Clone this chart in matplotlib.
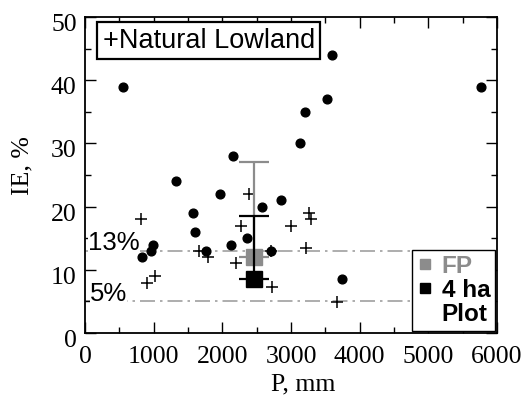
import matplotlib
matplotlib.use("Agg")
import matplotlib.pyplot as plt
from matplotlib.lines import Line2D
from matplotlib.ticker import MultipleLocator
from matplotlib.transforms import ScaledTranslation

# Data
circle_p = [560, 3591, 3528, 5766, 3197, 3124, 2156, 1318, 1961, 2847, 2574,
            1572, 1606, 2360, 2122, 997, 968, 832, 1766, 2711, 3737]
circle_ie = [39, 44, 37, 39, 35, 30, 28, 24, 22, 21, 20,
             19, 16, 15, 14, 14, 13, 12, 13, 13, 8.6]

lowland_p = [818, 2389, 2277, 2993, 3265, 3285, 3216, 1655, 1791, 2204,
             2711, 900, 1022, 2730, 3674]
lowland_ie = [18, 22, 17, 17, 19, 18, 13.5, 13, 12, 11,
              13, 7.9, 9, 7.3, 4.9]

fp_p, fp_ie, fp_err = 2457, 12.0, 15.0
plot_p, plot_ie, plot_err = 2457, 8.5, 10.0

thresholds = [13, 5]
threshold_labels = ["13%", "5%"]
threshold_label_x = [45, 70]

serif = "Liberation Serif"
sans = "Liberation Sans"
grey = "#8c8c8c"
line_grey = "#a0a0a0"

plt.rcParams["font.family"] = serif
plt.rcParams["font.size"] = 18.5

fig, ax = plt.subplots(figsize=(5.27, 3.99), dpi=100)
fig.subplots_adjust(left=0.1613, right=0.9431, bottom=0.1654, top=0.9574)

# threshold lines with labels
for t, lab, lx in zip(thresholds, threshold_labels, threshold_label_x):
    ax.axhline(t, color=line_grey, lw=1.2, linestyle=(0, (9, 3, 1.5, 3)), zorder=1)
    ax.text(lx, t + 0.1, lab, family=sans, fontsize=18.5, va="baseline", ha="left",
            bbox=dict(fc="white", ec="none", pad=0), zorder=2)

ax.plot(circle_p, circle_ie, "o", color="black", ms=6.3, zorder=3)
ax.plot(lowland_p, lowland_ie, "+", color="black", ms=9, mew=1.1, zorder=3)

# FP and 4 ha plot with upper error bars
ax.errorbar([fp_p], [fp_ie], yerr=[[0], [fp_err]], fmt="none", ecolor=grey,
            elinewidth=1.6, capsize=11, capthick=1.6, zorder=4)
ax.plot([fp_p], [fp_ie], "s", color=grey, ms=11.5, zorder=5)
ax.errorbar([plot_p], [plot_ie], yerr=[[0], [plot_err]], fmt="none", ecolor="black",
            elinewidth=1.6, capsize=11, capthick=1.6, zorder=6)
ax.plot([plot_p], [plot_ie], "s", color="black", ms=11.5, zorder=7)

ax.set_xlim(0, 6000)
ax.set_ylim(0, 50)
ax.xaxis.set_major_locator(MultipleLocator(1000))
ax.xaxis.set_minor_locator(MultipleLocator(500))
ax.yaxis.set_major_locator(MultipleLocator(10))
ax.yaxis.set_minor_locator(MultipleLocator(5))
ax.tick_params(which="both", direction="in", top=True, right=True, width=1.0,
               labelsize=18.5)
ax.tick_params(which="major", length=8)
ax.tick_params(which="minor", length=4)
ax.tick_params(axis="x", pad=9)
ax.tick_params(axis="y", pad=6)
for s in ax.spines.values():
    s.set_linewidth(1.3)
for lab in ax.get_yticklabels():
    lab.set_transform(lab.get_transform() + ScaledTranslation(0, -4 / 72, fig.dpi_scale_trans))

ax.set_xlabel("P, mm", fontsize=18.5)
ax.set_ylabel("IE, %", fontsize=18.5)
ax.xaxis.set_label_coords(0.53, -0.128)
ax.yaxis.set_label_coords(-0.125, 0.53)

ax.text(0.043, 0.925, "+Natural Lowland", transform=ax.transAxes, family=sans,
        fontsize=19.5, va="center", ha="left", zorder=8,
        bbox=dict(boxstyle="square,pad=0.2", fc="white", ec="black", lw=1.6))

handles = [Line2D([], [], marker="s", ls="none", color=grey, ms=7),
           Line2D([], [], marker="s", ls="none", color="black", ms=7),
           Line2D([], [], ls="none")]
leg = ax.legend(handles, ["FP", "4 ha", "Plot"], loc="lower right",
                prop={"family": sans, "weight": "bold", "size": 17.5},
                handlelength=0.6, handletextpad=0.4, labelspacing=0.05,
                borderpad=0.2, borderaxespad=0.08, fancybox=False,
                edgecolor="black", framealpha=1)
leg.get_frame().set_linewidth(1.0)
leg.get_texts()[0].set_color(grey)
leg.set_zorder(9)

fig.savefig("out.png", dpi=100)
